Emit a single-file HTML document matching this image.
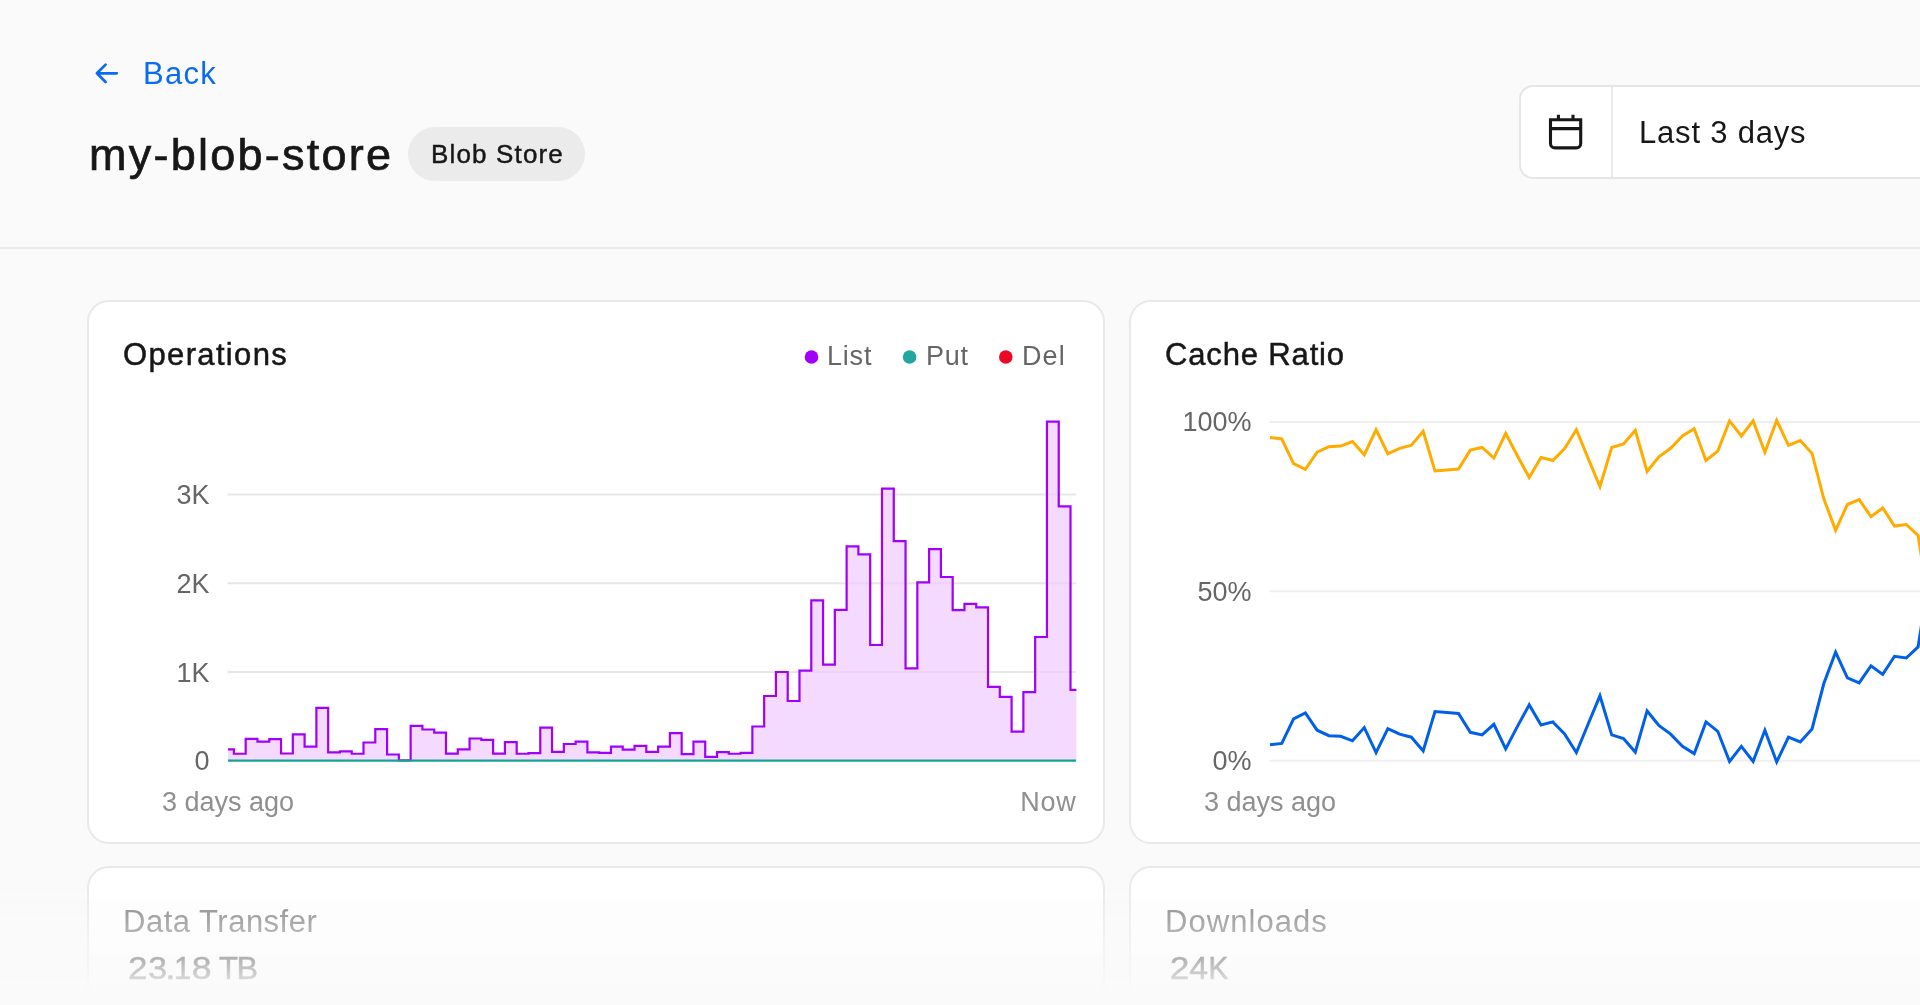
<!DOCTYPE html>
<html><head><meta charset="utf-8"><title>my-blob-store</title>
<style>
html,body{margin:0;padding:0}
body{width:1920px;height:1005px;overflow:hidden;background:#fafafa;position:relative;font-family:"Liberation Sans", sans-serif;-webkit-font-smoothing:antialiased}
.abs{position:absolute;will-change:transform}
.t{position:absolute;white-space:nowrap;will-change:transform}
.card{box-sizing:border-box;background:#fff;border:2px solid #e9e9e9;border-radius:22px}
</style></head><body>
<svg class="abs" style="left:0;top:0" width="1920" height="260" viewBox="0 0 1920 260"><path d="M116.8,73.3H97.2M105.6,64.6L96.9,73.3L105.6,82" fill="none" stroke="#0a6cf0" stroke-width="2.7" stroke-linecap="round" stroke-linejoin="round"/></svg>
<div class="t" style="left:142.6px;top:57.66px;font-size:31px;line-height:31px;color:#0a6cf0;letter-spacing:1.3px;">Back</div>
<div class="t" style="left:88.8px;top:131.91px;font-size:45px;line-height:45px;color:#171717;letter-spacing:2.25px;-webkit-text-stroke:0.7px #171717;">my-blob-store</div>
<div class="abs" style="left:408px;top:127px;width:177px;height:54px;border-radius:27px;background:#ebebeb"></div>
<div class="t" style="left:430.6px;top:140.89px;font-size:26px;line-height:26px;color:#171717;letter-spacing:1.15px;-webkit-text-stroke:0.45px #171717;">Blob Store</div>
<div class="abs" style="left:1519px;top:84.7px;width:520px;height:90px;border:2px solid #e6e6e6;border-radius:14px;background:#fff"></div>
<div class="abs" style="left:1610.7px;top:86.7px;width:1.5px;height:90px;background:#e9e9e9"></div>
<svg class="abs" style="left:1500px;top:100px" width="120" height="70" viewBox="1500 100 120 70"><path d="M1550.5,119.7H1580.7V143.4A4.5,4.5 0 0 1 1576.2,147.9H1555A4.5,4.5 0 0 1 1550.5,143.4Z M1550.5,128.6H1580.7 M1558.4,114.8V119.7 M1573,114.8V119.7" fill="none" stroke="#171717" stroke-width="3.1"/></svg>
<div class="t" style="left:1639.1px;top:116.66px;font-size:31px;line-height:31px;color:#171717;letter-spacing:0.8px;">Last 3 days</div>
<div class="abs" style="left:0;top:247px;width:1920px;height:2px;background:#ebebeb"></div>
<div class="abs card" style="left:86.5px;top:300px;width:1018px;height:543.5px"></div>
<div class="abs card" style="left:1128.7px;top:300px;width:1018px;height:543.5px"></div>
<div class="abs card" style="left:86.5px;top:866px;width:1018px;height:300px"></div>
<div class="abs card" style="left:1128.7px;top:866px;width:1018px;height:300px"></div>
<div class="t" style="left:122.9px;top:339.26px;font-size:31px;line-height:31px;color:#171717;letter-spacing:1.35px;-webkit-text-stroke:0.5px #171717;">Operations</div>
<div class="t" style="left:1164.9px;top:339.26px;font-size:31px;line-height:31px;color:#171717;letter-spacing:0.85px;-webkit-text-stroke:0.5px #171717;">Cache Ratio</div>
<svg class="abs" style="left:780px;top:330px" width="320" height="50" viewBox="780 330 320 50"><circle cx="811.5" cy="357" r="6.8" fill="#a100fa"/><circle cx="909.6" cy="357" r="6.8" fill="#21a6a1"/><circle cx="1005.8" cy="357" r="6.8" fill="#ea0a23"/></svg>
<div class="t" style="left:826.5px;top:343.44px;font-size:27px;line-height:27px;color:#666;letter-spacing:0.8px;">List</div>
<div class="t" style="left:925.6px;top:343.44px;font-size:27px;line-height:27px;color:#666;letter-spacing:0.8px;">Put</div>
<div class="t" style="left:1021.6px;top:343.44px;font-size:27px;line-height:27px;color:#666;letter-spacing:1.1px;">Del</div>
<svg class="abs" style="left:0;top:380px" width="1920" height="460" viewBox="0 380 1920 460" font-family='"Liberation Sans", sans-serif'><line x1="227.5" x2="1076" y1="494.6" y2="494.6" stroke="#efefef" stroke-width="2"/><line x1="227.5" x2="1076" y1="583.2" y2="583.2" stroke="#efefef" stroke-width="2"/><line x1="227.5" x2="1076" y1="672" y2="672" stroke="#efefef" stroke-width="2"/><line x1="1269.5" x2="2120" y1="421.9" y2="421.9" stroke="#efefef" stroke-width="2"/><line x1="1269.5" x2="2120" y1="591.3" y2="591.3" stroke="#efefef" stroke-width="2"/><line x1="1269.5" x2="2120" y1="760.7" y2="760.7" stroke="#efefef" stroke-width="2"/><text x="209.5" y="503.9" font-size="27" fill="#666" text-anchor="end">3K</text><text x="209.5" y="592.7" font-size="27" fill="#666" text-anchor="end">2K</text><text x="209.5" y="681.6" font-size="27" fill="#666" text-anchor="end">1K</text><text x="209.5" y="770.4" font-size="27" fill="#666" text-anchor="end">0</text><text x="1251.5" y="431.4" font-size="27" fill="#666" text-anchor="end">100%</text><text x="1251.5" y="600.9" font-size="27" fill="#666" text-anchor="end">50%</text><text x="1251.5" y="770.4" font-size="27" fill="#666" text-anchor="end">0%</text><text x="228" y="811.2" font-size="27" fill="#8f8f8f" text-anchor="middle">3 days ago</text><text x="1076.6" y="810.7" font-size="27" fill="#8f8f8f" text-anchor="end" letter-spacing="0.8">Now</text><text x="1270" y="811.2" font-size="27" fill="#8f8f8f" text-anchor="middle">3 days ago</text><path d="M228,749.4H233.89V753.75H245.68V738.8H257.46V741.6H269.24V739.2H281.02V753.5H292.81V734.4H304.59V746.7H316.38V707.9H328.16V752.4H339.94V751.4H351.73V753.75H363.51V742.5H375.29V729.2H387.08V754.5H398.86V760.4H410.64V725.8H422.42V729.5H434.21V732.6H445.99V753.6H457.77V749.3H469.56V738.5H481.34V739.9H493.12V753.6H504.91V742.2H516.69V753.75H528.47V753.2H540.26V727.7H552.04V751.9H563.83V744H575.61V741.7H587.39V752.3H599.17V752.9H610.96V746.7H622.74V749.6H634.53V745.8H646.31V751.9H658.09V746.7H669.88V733.1H681.66V754.2H693.44V741.7H705.22V756.9H717.01V752.1H728.79V753.75H740.58V752.9H752.36V726.5H764.14V696H775.92V672H787.71V701H799.49V670.7H811.27V600.3H823.06V664.7H834.84V609.8H846.62V546.3H858.41V554.3H870.19V645H881.98V488.7H893.76V541.1H905.54V668.4H917.33V582.4H929.11V549.2H940.89V577H952.67V610.1H964.46V603.8H976.24V607.4H988.02V686.9H999.81V696.9H1011.59V731.6H1023.38V692.2H1035.16V637H1046.94V421.7H1058.73V506.3H1070.51V689.9H1076.4V760.7H228Z" fill="#f4daff"/><line x1="227.5" x2="1076" y1="494.6" y2="494.6" stroke="rgba(0,0,0,0.03)" stroke-width="2"/><line x1="227.5" x2="1076" y1="583.2" y2="583.2" stroke="rgba(0,0,0,0.03)" stroke-width="2"/><line x1="227.5" x2="1076" y1="672" y2="672" stroke="rgba(0,0,0,0.03)" stroke-width="2"/><path d="M228,749.4H233.89V753.75H245.68V738.8H257.46V741.6H269.24V739.2H281.02V753.5H292.81V734.4H304.59V746.7H316.38V707.9H328.16V752.4H339.94V751.4H351.73V753.75H363.51V742.5H375.29V729.2H387.08V754.5H398.86V760.4H410.64V725.8H422.42V729.5H434.21V732.6H445.99V753.6H457.77V749.3H469.56V738.5H481.34V739.9H493.12V753.6H504.91V742.2H516.69V753.75H528.47V753.2H540.26V727.7H552.04V751.9H563.83V744H575.61V741.7H587.39V752.3H599.17V752.9H610.96V746.7H622.74V749.6H634.53V745.8H646.31V751.9H658.09V746.7H669.88V733.1H681.66V754.2H693.44V741.7H705.22V756.9H717.01V752.1H728.79V753.75H740.58V752.9H752.36V726.5H764.14V696H775.92V672H787.71V701H799.49V670.7H811.27V600.3H823.06V664.7H834.84V609.8H846.62V546.3H858.41V554.3H870.19V645H881.98V488.7H893.76V541.1H905.54V668.4H917.33V582.4H929.11V549.2H940.89V577H952.67V610.1H964.46V603.8H976.24V607.4H988.02V686.9H999.81V696.9H1011.59V731.6H1023.38V692.2H1035.16V637H1046.94V421.7H1058.73V506.3H1070.51V689.9H1076.4" fill="none" stroke="#a100fa" stroke-width="2.2"/><line x1="228" x2="1076" y1="760.6" y2="760.6" stroke="#16a394" stroke-width="2.4"/><path d="M1270,437.6L1281.78,439L1293.57,463.6L1305.35,469.4L1317.13,452.2L1328.92,446.7L1340.7,446.1L1352.48,441.6L1364.27,454.8L1376.05,429.8L1387.83,453.75L1399.62,448.3L1411.4,445.2L1423.18,431.4L1434.97,470.9L1446.75,469.9L1458.53,469L1470.32,450.1L1482.1,447.5L1493.88,458.1L1505.67,433.4L1517.45,456L1529.23,477.5L1541.02,457.4L1552.8,460.5L1564.58,448.5L1576.37,429.8L1588.15,458.4L1599.93,486.6L1611.72,447.5L1623.5,443.9L1635.28,430.3L1647.07,471.5L1658.85,456.9L1670.63,448.3L1682.42,436L1694.2,428.75L1705.98,460.5L1717.77,451.1L1729.55,420.9L1741.33,436L1753.12,420.9L1764.9,452.2L1776.68,420.4L1788.47,445.3L1800.25,440.5L1812.03,453.4L1823.82,498.9L1835.6,530.3L1847.38,504.5L1859.17,499.6L1870.95,516.6L1882.73,508L1894.52,526.1L1906.3,524.5L1918.08,535.5L1929.87,610" fill="none" stroke="#ffab00" stroke-width="3" stroke-linejoin="miter" stroke-miterlimit="10"/><path d="M1270,744.8L1281.78,743.4L1293.57,718.8L1305.35,713L1317.13,730.2L1328.92,735.7L1340.7,736.3L1352.48,740.8L1364.27,727.6L1376.05,752.6L1387.83,728.65L1399.62,734.1L1411.4,737.2L1423.18,751L1434.97,711.5L1446.75,712.5L1458.53,713.4L1470.32,732.3L1482.1,734.9L1493.88,724.3L1505.67,749L1517.45,726.4L1529.23,704.9L1541.02,725L1552.8,721.9L1564.58,733.9L1576.37,752.6L1588.15,724L1599.93,695.8L1611.72,734.9L1623.5,738.5L1635.28,752.1L1647.07,710.9L1658.85,725.5L1670.63,734.1L1682.42,746.4L1694.2,753.65L1705.98,721.9L1717.77,731.3L1729.55,761.5L1741.33,746.4L1753.12,761.5L1764.9,730.2L1776.68,762L1788.47,737.1L1800.25,741.9L1812.03,729L1823.82,683.5L1835.6,652.1L1847.38,677.9L1859.17,682.8L1870.95,665.8L1882.73,674.4L1894.52,656.3L1906.3,657.9L1918.08,646.9L1929.87,572.4" fill="none" stroke="#0060ea" stroke-width="3" stroke-linejoin="miter" stroke-miterlimit="10"/></svg>
<div class="t" style="left:123.3px;top:905.76px;font-size:31px;line-height:31px;color:#747474;letter-spacing:0.5px;">Data Transfer</div>
<div class="t" style="left:129.1px;top:952.96px;font-size:31px;line-height:31px;color:#171717;-webkit-text-stroke:0.5px #171717;transform:scaleX(1.13);transform-origin:8.65px 50%;">2</div><div class="t" style="left:148.5px;top:952.96px;font-size:31px;line-height:31px;color:#171717;-webkit-text-stroke:0.5px #171717;transform:scaleX(1.09);transform-origin:8.55px 50%;">3</div><div class="t" style="left:165.55px;top:952.96px;font-size:31px;line-height:31px;color:#171717;-webkit-text-stroke:0.5px #171717;transform:scaleX(1.2);transform-origin:4.3px 50%;">.</div><div class="t" style="left:173.95px;top:952.96px;font-size:31px;line-height:31px;color:#171717;-webkit-text-stroke:0.5px #171717;transform:scaleX(1);transform-origin:9.05px 50%;">1</div><div class="t" style="left:193.15px;top:952.96px;font-size:31px;line-height:31px;color:#171717;-webkit-text-stroke:0.5px #171717;transform:scaleX(1.15);transform-origin:8.6px 50%;">8</div><div class="t" style="left:218.95px;top:952.96px;font-size:31px;line-height:31px;color:#171717;-webkit-text-stroke:0.5px #171717;transform:scaleX(1);transform-origin:9.45px 50%;">T</div><div class="t" style="left:237px;top:952.96px;font-size:31px;line-height:31px;color:#171717;-webkit-text-stroke:0.5px #171717;transform:scaleX(1.04);transform-origin:10.75px 50%;">B</div>
<div class="t" style="left:1164.5px;top:905.76px;font-size:31px;line-height:31px;color:#747474;letter-spacing:1.05px;">Downloads</div>
<div class="t" style="left:1171.05px;top:952.96px;font-size:31px;line-height:31px;color:#171717;-webkit-text-stroke:0.5px #171717;transform:scaleX(1.14);transform-origin:8.65px 50%;">2</div><div class="t" style="left:1189.85px;top:952.96px;font-size:31px;line-height:31px;color:#171717;-webkit-text-stroke:0.5px #171717;transform:scaleX(1.09);transform-origin:8.5px 50%;">4</div><div class="t" style="left:1208.2px;top:952.96px;font-size:31px;line-height:31px;color:#171717;-webkit-text-stroke:0.5px #171717;transform:scaleX(0.97);transform-origin:11.4px 50%;">K</div>
<div class="abs" style="left:0;top:872px;width:1920px;height:133px;background:linear-gradient(to bottom, rgba(250,250,250,0) 0%, rgba(250,250,250,1) 95%, rgba(250,250,250,1) 100%)"></div>
</body></html>
